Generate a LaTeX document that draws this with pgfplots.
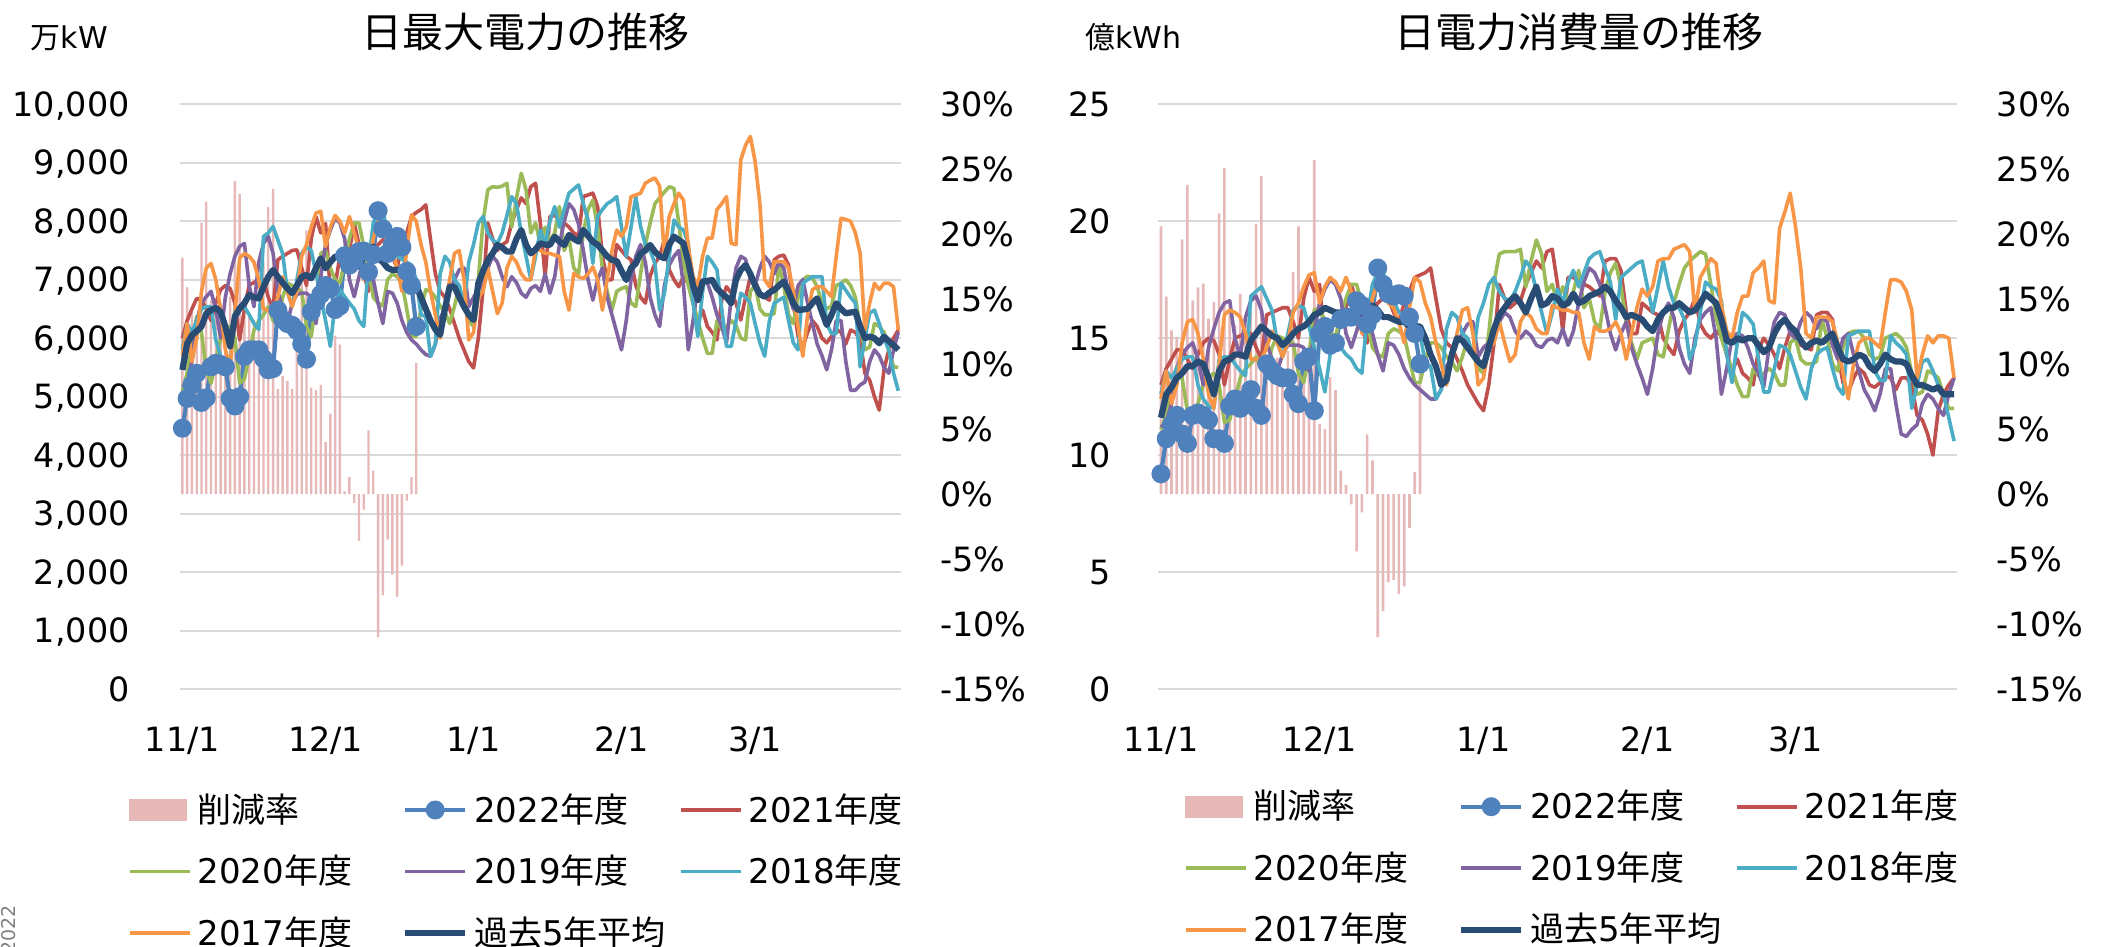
\documentclass[border=0pt]{standalone}
\usepackage{pgfplots}
\pgfplotsset{compat=1.18}
\usepackage{pgfplotstable}
\usepackage{fontspec}
\setmainfont{DejaVu Sans}
\newfontfamily\cjk{Noto Sans CJK JP}
\definecolor{c22}{HTML}{4F81BD}
\definecolor{c21}{HTML}{C0504D}
\definecolor{c20}{HTML}{9BBB59}
\definecolor{c19}{HTML}{8064A2}
\definecolor{c18}{HTML}{4BACC6}
\definecolor{c17}{HTML}{F79646}
\definecolor{cavg}{HTML}{294C74}
\definecolor{cbar}{HTML}{E6B9B8}
\definecolor{cgrid}{HTML}{D9D9D9}

\pgfplotstableread{
d a21 a20 a19 a18 a17 av
0 6000 5100 5170 5800 5700 5456
1 6300 5400 5230 6250 6250 5910
2 6500 5900 5600 6100 5600 6050
3 6680 6370 6300 6300 6000 6120
4 6650 6100 6600 6500 6800 6200
5 6500 5460 6710 6540 7200 6420
6 6300 5230 6800 6540 7280 6480
7 6600 5600 6500 5970 7000 6520
8 6830 6000 6000 5700 6500 6450
9 6900 6140 6700 5570 5800 6200
10 6850 6200 7100 5510 5520 5860
11 6600 6000 7400 6500 6400 6370
12 5970 5230 7570 6520 7370 6510
13 6500 5300 7620 6540 7450 6600
14 6910 5700 6900 6400 7400 6740
15 6950 6140 6540 6250 7300 6700
16 7000 6300 7300 6150 7000 6680
17 7000 6400 7620 7740 6500 6880
18 6700 6540 7740 7800 6480 7050
19 6500 6300 7450 7910 6480 7166
20 7340 6250 6800 7680 6700 7050
21 7400 6700 6500 7450 7050 6950
22 7450 6940 6250 6800 6800 6850
23 7500 6900 6600 6540 6540 6770
24 7510 6850 6750 7000 6800 6900
25 7200 6800 6770 7450 7400 7050
26 6900 6200 6770 7560 7600 7080
27 7700 6030 6700 7500 7900 7024
28 8080 6600 6250 7110 8140 7200
29 7800 7450 7050 6700 8170 7366
30 7960 7500 7600 6300 7570 7195
31 6800 7200 7850 5860 7900 7300
32 6900 7000 8050 6600 8100 7394
33 7400 6950 7970 6830 8000 7400
34 7400 7300 7700 6710 7800 7423
35 7500 7700 7000 6600 8080 7350
36 7970 7970 6710 6500 7800 7280
37 7600 7970 7050 6300 7500 7224
38 7100 7570 7400 6200 7000 7400
39 6800 7200 7550 7300 7220 7500
40 7450 6700 7000 7970 7700 7566
41 7600 6600 6600 8190 8000 7366
42 7680 6550 6250 8250 7900 7300
43 7680 7000 6800 7680 7600 7200
44 7400 7100 6770 7620 7500 7166
45 7200 7050 6600 7400 7200 7170
46 7600 6950 6300 7350 6800 7166
47 7800 6500 6100 7300 7500 7100
48 8080 6030 5970 7250 8110 6995
49 8150 6030 5900 7000 8000 6900
50 8200 6500 5800 6400 7600 6700
51 8280 6830 5720 6370 7300 6500
52 7680 6800 5690 5690 6800 6300
53 7100 6700 5900 5900 6400 6150
54 6800 6550 6340 7100 6000 6055
55 6700 6450 6500 7400 6500 6500
56 6500 6250 6800 7300 7000 6880
57 6250 6540 7000 7000 7450 6880
58 6000 6900 7170 6900 7500 6700
59 5800 6600 7200 6540 7000 6540
60 5600 6300 6540 7300 5970 6400
61 5490 6200 6700 7600 6100 6311
62 6000 7000 6830 7970 6700 6938
63 6830 8000 7000 8080 6800 7150
64 7970 8540 7200 7800 7200 7337
65 7700 8590 7400 7680 6800 7450
66 7500 8580 7300 7620 6420 7594
67 7600 8600 7050 7800 6600 7550
68 7650 8650 6880 8100 7200 7480
69 7970 7900 7050 8420 7400 7480
70 8200 8400 6950 8300 7300 7700
71 8400 8820 6770 7800 7100 7850
72 8300 8540 6700 7400 7000 7600
73 8590 7800 6850 7000 7000 7450
74 8650 7970 6900 7400 7540 7520
75 7970 7600 6800 7850 7500 7623
76 7050 7900 7100 7600 7450 7600
77 8080 7650 6770 8000 7450 7594
78 8100 7800 7050 8250 7420 7737
79 8020 8250 7600 7900 7400 7650
80 7970 7500 8000 8200 6800 7594
81 7900 7700 8300 8480 6480 7766
82 7800 7200 8200 8550 7110 7700
83 7750 7100 7950 8620 7050 7651
84 8420 7800 7500 8300 7020 7850
85 8450 8200 7000 8020 7100 7750
86 8480 8360 6650 7280 7220 7650
87 8250 7900 7000 8080 7000 7600
88 7400 7200 7200 8200 6480 7500
89 7000 6800 6700 8300 7000 7400
90 7000 6480 6400 8350 7500 7337
91 7600 6800 6100 8420 7850 7320
92 7500 6850 5800 7900 7740 7150
93 7400 6880 6300 7400 7900 6995
94 7340 6600 7000 7900 8420 7200
95 6900 6540 7400 8420 8450 7280
96 6700 7100 7600 7910 8480 7450
97 6600 7600 7300 7600 8650 7500
98 7060 7970 6700 7500 8700 7594
99 7280 8300 6400 7280 8740 7480
100 7400 8400 6200 6480 8600 7400
101 7680 8500 6900 6770 7400 7366
102 7170 8590 7250 7400 8080 7600
103 7000 8560 7400 8020 8300 7737
104 6880 7970 7500 7900 8480 7680
105 7050 7300 6900 7850 8360 7623
106 6940 6900 5800 7620 7560 7300
107 6600 6600 6300 6600 7050 6900
108 6270 6300 6900 6030 6900 6653
109 6480 6000 7000 6800 7400 6967
110 6200 5740 6950 7400 7710 6980
111 6100 5740 6700 7300 7710 6995
112 5970 6300 6400 7170 8200 6850
113 6650 6150 6200 6500 8300 6767
114 6880 6200 5920 5860 8420 6700
115 6770 6300 6700 5860 7620 6596
116 6600 6220 7200 6300 7600 7000
117 6310 6000 7400 6770 9050 7166
118 6700 5970 7350 6700 9300 7252
119 7050 6800 7000 6600 9450 7100
120 6990 6900 6900 6250 9020 6900
121 6770 6500 7200 5920 8300 6750
122 6700 6400 7400 5690 7000 6710
123 6650 6400 7300 6300 6880 6780
124 7340 6420 7100 6600 7310 6824
125 7400 7270 7300 6650 7310 6900
126 7420 6900 7200 6700 7310 6967
127 7250 6400 6750 6300 7200 6800
128 6600 6250 6500 5920 6820 6600
129 6030 6700 6900 5800 6200 6482
130 5850 7000 7000 6940 5690 6490
131 6100 7060 6600 7000 6400 6500
132 6300 7030 6250 7050 6830 6600
133 6200 6880 5900 7050 6880 6682
134 6000 6600 5700 7050 6880 6450
135 5920 6500 5460 6250 6800 6226
136 6030 6550 5800 6080 6710 6400
137 6150 6900 6300 6080 7400 6596
138 6100 6940 6300 6940 8050 6500
139 5900 7000 5600 6820 8030 6425
140 6140 6900 5110 6700 8000 6440
141 6100 6700 5110 6600 7800 6450
142 5970 6200 5200 5510 7450 6200
143 5400 5800 5250 6000 6140 6000
144 5280 5850 5600 6430 6600 6030
145 5000 6250 5800 6480 6940 6000
146 4770 6200 5700 6250 6830 5912
147 5460 6100 5500 6000 6940 6026
148 5800 5800 5400 5800 6940 5950
149 6000 5510 5800 5400 6880 5880
150 6140 5500 6100 5100 6140 5800
}\histL

\pgfplotstableread{
d b v
0 18.2 4460
1 15.9 4970
2 14.0 5200
3 11.8 5400
4 20.9 4900
5 22.5 4980
6 14.9 5510
7 14.6 5570
8 14.0 5550
9 11.1 5510
10 15.2 4970
11 24.1 4840
12 23.1 5000
13 13.8 5690
14 13.9 5800
15 13.4 5800
16 13.2 5800
17 17.9 5650
18 22.1 5460
19 23.5 5480
20 8.1 6480
21 9.1 6320
22 8.7 6250
23 8.1 6220
24 11.1 6130
25 16.3 5900
26 20.3 5640
27 8.2 6450
28 8.0 6620
29 8.4 6750
30 4.0 6900
31 6.2 6850
32 12.2 6490
33 11.5 6550
34 0.2 7410
35 1.3 7250
36 -0.7 7330
37 -3.6 7480
38 -1.2 7490
39 4.9 7130
40 1.8 7430
41 -11.0 8180
42 -7.8 7870
43 -3.5 7450
44 -6.2 7610
45 -7.9 7740
46 -5.5 7560
47 -0.5 7140
48 1.3 6900
49 10.1 6200
}\nowL

\pgfplotstableread{
d a21 a20 a19 a18 a17 av
0 13.0 11.1 11.2 12.6 12.4 11.6
1 13.7 11.7 11.4 13.6 13.6 12.6
2 14.1 12.8 12.2 13.3 12.2 12.9
3 14.5 13.8 13.7 13.7 13.0 13.3
4 14.5 13.3 14.3 14.1 14.8 13.5
5 14.1 11.9 14.6 14.2 15.7 13.8
6 13.7 11.4 14.8 14.2 15.8 13.8
7 14.3 12.2 14.1 13.0 15.2 14.0
8 14.8 13.0 13.0 12.4 14.1 13.9
9 15.0 13.3 14.6 12.1 12.6 13.3
10 14.9 13.5 15.4 12.0 12.0 12.6
11 14.3 13.0 16.1 14.1 13.9 13.6
12 13.0 11.4 16.5 14.2 16.0 14.0
13 14.1 11.5 16.6 14.2 16.2 14.1
14 15.0 12.4 15.0 13.9 16.1 14.3
15 15.1 13.3 14.2 13.6 15.9 14.3
16 15.2 13.7 15.9 13.4 15.2 14.2
17 15.2 13.9 16.6 16.8 14.1 14.9
18 14.6 14.2 16.8 17.0 14.1 15.2
19 14.1 13.7 16.2 17.2 14.1 15.5
20 16.0 13.6 14.8 16.7 14.6 15.3
21 16.1 14.6 14.1 16.2 15.3 15.1
22 16.2 15.1 13.6 14.8 14.8 15.0
23 16.3 15.0 14.3 14.2 14.2 14.7
24 16.3 14.9 14.7 15.2 14.8 14.9
25 15.7 14.8 14.7 16.2 16.1 15.2
26 15.0 13.5 14.7 16.4 16.5 15.4
27 16.7 13.1 14.6 16.3 17.2 15.5
28 17.6 14.3 13.6 15.5 17.7 15.7
29 17.0 16.2 15.3 14.6 17.8 16.0
30 17.3 16.3 16.5 13.7 16.5 16.1
31 14.8 15.7 17.1 12.7 17.2 16.3
32 15.0 15.2 17.5 14.3 17.6 16.2
33 16.1 15.1 17.3 14.8 17.4 16.1
34 16.1 15.9 16.7 14.6 17.0 16.1
35 16.3 16.7 15.2 14.3 17.6 16.0
36 17.3 17.3 14.6 14.1 17.0 15.8
37 16.5 17.3 15.3 13.7 16.3 15.9
38 15.4 16.5 16.1 13.5 15.2 16.2
39 14.8 15.7 16.4 15.9 15.7 16.3
40 16.2 14.6 15.2 17.3 16.7 16.4
41 16.5 14.3 14.3 17.8 17.4 16.2
42 16.7 14.2 13.6 17.9 17.2 15.9
43 16.7 15.2 14.8 16.7 16.5 15.9
44 16.1 15.4 14.7 16.6 16.3 15.8
45 15.7 15.3 14.3 16.1 15.7 15.7
46 16.5 15.1 13.7 16.0 14.8 15.7
47 17.0 14.1 13.3 15.9 16.3 15.5
48 17.6 13.1 13.0 15.8 17.6 15.5
49 17.7 13.1 12.8 15.2 17.4 15.5
50 17.8 14.1 12.6 13.9 16.5 15.0
51 18.0 14.8 12.4 13.8 15.9 14.3
52 16.7 14.8 12.4 12.4 14.8 13.8
53 15.4 14.6 12.8 12.8 13.9 13.0
54 14.8 14.2 13.8 15.4 13.0 13.2
55 14.6 14.0 14.1 16.1 14.1 14.3
56 14.1 13.6 14.8 15.9 15.2 15.0
57 13.6 14.2 15.2 15.2 16.2 14.9
58 13.0 15.0 15.6 15.0 16.3 14.6
59 12.6 14.3 15.7 14.2 15.2 14.3
60 12.2 13.7 14.2 15.9 13.0 14.0
61 11.9 13.5 14.6 16.5 13.3 13.8
62 13.0 15.2 14.8 17.3 14.6 14.6
63 14.8 17.4 15.2 17.6 14.8 15.4
64 17.3 18.6 15.7 17.0 15.7 16.0
65 16.7 18.7 16.1 16.7 14.8 16.3
66 16.3 18.7 15.9 16.6 14.0 16.6
67 16.5 18.7 15.3 17.0 14.3 16.8
68 16.6 18.8 15.0 17.6 15.7 16.5
69 17.3 17.2 15.3 18.3 16.1 16.1
70 17.8 18.3 15.1 18.0 15.9 16.7
71 18.3 19.2 14.7 17.0 15.4 17.2
72 18.0 18.6 14.6 16.1 15.2 16.4
73 18.7 17.0 14.9 15.2 15.2 16.5
74 18.8 17.3 15.0 16.1 16.4 16.8
75 17.3 16.5 14.8 17.1 16.3 16.7
76 15.3 17.2 15.4 16.5 16.2 16.4
77 17.6 16.6 14.7 17.4 16.2 16.5
78 17.6 17.0 15.3 17.9 16.1 16.9
79 17.4 17.9 16.5 17.2 16.1 16.5
80 17.3 16.3 17.4 17.8 14.8 16.6
81 17.2 16.7 18.0 18.4 14.1 16.8
82 17.0 15.7 17.8 18.6 15.5 16.9
83 16.8 15.4 17.3 18.7 15.3 17.0
84 18.3 17.0 16.3 18.0 15.3 17.2
85 18.4 17.8 15.2 17.4 15.4 17.0
86 18.4 18.2 14.5 15.8 15.7 16.6
87 17.9 17.2 15.2 17.6 15.2 16.3
88 16.1 15.7 15.7 17.8 14.1 15.9
89 15.2 14.8 14.6 18.0 15.2 16.0
90 15.2 14.1 13.9 18.2 16.3 15.9
91 16.5 14.8 13.3 18.3 17.1 15.8
92 16.3 14.9 12.6 17.2 16.8 15.5
93 16.1 15.0 13.7 16.1 17.2 15.3
94 16.0 14.3 15.2 17.2 18.3 15.8
95 15.0 14.2 16.1 18.3 18.4 16.1
96 14.6 15.4 16.5 17.2 18.4 16.3
97 14.3 16.5 15.9 16.5 18.8 16.3
98 15.3 17.3 14.6 16.3 18.9 16.5
99 15.8 18.0 13.9 15.8 19.0 16.3
100 16.1 18.3 13.5 14.1 18.7 16.1
101 16.7 18.5 15.0 14.7 16.1 16.2
102 15.6 18.7 15.8 16.1 17.6 16.5
103 15.2 18.6 16.1 17.4 18.0 16.9
104 15.0 17.3 16.3 17.2 18.4 16.7
105 15.3 15.9 15.0 17.1 18.2 16.5
106 15.1 15.0 12.6 16.6 16.4 15.8
107 14.3 14.3 13.7 14.3 15.3 14.9
108 13.6 13.7 15.0 13.1 15.0 14.8
109 14.1 13.0 15.2 14.8 16.1 15.0
110 13.5 12.5 15.1 16.1 16.8 14.9
111 13.3 12.5 14.6 15.9 16.8 15.0
112 13.0 13.7 13.9 15.6 17.8 15.0
113 14.5 13.4 13.5 14.1 18.0 14.7
114 15.0 13.5 12.9 12.7 18.3 14.4
115 14.7 13.7 14.6 12.7 16.6 14.6
116 14.3 13.5 15.7 13.7 16.5 15.2
117 13.7 13.0 16.1 14.7 19.7 15.6
118 14.6 13.0 16.0 14.6 20.4 15.8
119 15.3 14.8 15.2 14.3 21.2 15.5
120 15.2 15.0 15.0 13.6 19.8 15.3
121 14.7 14.1 15.7 12.9 18.0 14.9
122 14.6 13.9 16.1 12.4 15.2 14.6
123 14.5 13.9 15.9 13.7 15.0 14.8
124 16.0 14.0 15.4 14.3 15.9 14.9
125 16.1 15.8 15.9 14.5 15.9 14.8
126 16.1 15.0 15.7 14.6 15.9 15.0
127 15.8 13.9 14.7 13.7 15.7 15.2
128 14.3 13.6 14.1 12.9 14.8 14.6
129 13.1 14.6 15.0 12.6 13.5 14.1
130 12.7 15.2 15.2 15.1 12.4 14.0
131 13.3 15.3 14.3 15.2 13.9 14.1
132 13.7 15.3 13.6 15.3 14.8 14.3
133 13.5 15.0 12.8 15.3 15.0 14.2
134 13.0 14.3 12.4 15.3 15.0 13.8
135 12.9 14.1 11.9 13.6 14.8 13.6
136 13.1 14.2 12.6 13.2 14.6 13.9
137 13.4 15.0 13.7 13.2 16.1 14.3
138 13.3 15.1 13.7 15.1 17.5 14.1
139 12.8 15.2 12.2 14.8 17.5 14.0
140 13.3 15.0 10.9 14.6 17.4 14.0
141 13.3 14.6 10.8 14.3 17.0 13.9
142 13.0 13.5 11.1 12.0 16.2 13.4
143 11.7 12.6 11.3 13.0 13.3 13.0
144 11.5 12.7 12.2 14.0 14.3 13.0
145 10.9 13.6 12.6 14.1 15.1 12.9
146 10.0 13.5 12.4 13.6 14.8 12.8
147 11.9 13.3 12.0 13.0 15.1 12.9
148 12.6 12.6 11.7 12.6 15.1 12.6
149 13.0 12.0 12.6 11.6 15.0 12.6
150 13.3 12.0 13.3 10.6 13.3 12.6
}\histR

\pgfplotstableread{
d b v
0 20.6 9.2
1 15.2 10.7
2 12.6 11.3
3 12.1 11.7
4 19.6 10.9
5 23.8 10.5
6 14.9 11.7
7 15.9 11.8
8 16.2 11.7
9 13.5 11.5
10 14.8 10.7
11 21.6 10.7
12 25.1 10.5
13 14.0 12.1
14 13.0 12.4
15 15.4 12.0
16 13.0 12.4
17 14.0 12.8
18 20.8 12.0
19 24.5 11.7
20 9.5 13.9
21 10.0 13.6
22 10.5 13.4
23 9.5 13.3
24 11.0 13.3
25 17.1 12.6
26 20.6 12.2
27 10.0 14.0
28 9.5 14.2
29 25.7 11.9
30 5.4 15.2
31 5.0 15.5
32 9.0 14.7
33 8.0 14.8
34 1.8 15.8
35 0.7 15.9
36 -0.8 15.9
37 -4.4 16.6
38 -1.4 16.4
39 4.6 15.6
40 2.6 16.0
41 -11.0 18.0
42 -9.0 17.3
43 -6.8 16.9
44 -6.6 16.8
45 -7.7 16.9
46 -7.1 16.8
47 -2.6 15.9
48 1.7 15.2
49 10.0 13.9
}\nowR

\pgfplotsset{
  panel/.style={scale only axis, height=292.35pt, xmin=-0.5, xmax=150.5,
    scaled y ticks=false, scaled x ticks=false,
    axis line style={draw=none}, major tick length=0pt,
    tick label style={font=\fontsize{16.7}{20}\selectfont}},
  gridax/.style={panel, ymajorgrids, major grid style={draw=cgrid, line width=1pt},
    xtick=\empty, yticklabels={}, axis y line*=left, axis x line*=bottom},
  barax/.style={panel, ymin=-15, ymax=30, ytick={-15,-10,...,30},
    yticklabels={-15\%,-10\%,-5\%,0\%,5\%,10\%,15\%,20\%,25\%,30\%},
    axis y line*=right, axis x line=none, xtick=\empty},
  lineax/.style={panel, axis y line*=left, axis x line*=bottom, clip=false,
    xtick={0,30,61,92,120}, xticklabels={11/1,12/1,1/1,2/1,3/1},
    xticklabel style={anchor=base, inner sep=0pt, yshift=-31.5pt},
    legend columns=3,
    legend image code/.code={\draw[mark repeat=2,mark phase=2,##1] plot coordinates {(0pt,0pt) (15pt,0pt) (30pt,0pt)};},
    legend style={anchor=north west, draw=none, fill=none, inner sep=0pt, outer sep=0pt,
      font=\fontsize{17}{20}\selectfont,
      nodes={inner sep=0pt, text height=16pt, text depth=4pt},
      cells={anchor=west}, column sep=0pt, row sep=10.75pt,
      /tikz/every odd column/.append style={column sep=3pt}}},
  s21/.style={c21, line width=1.8pt, line join=round},
  s20/.style={c20, line width=1.8pt, line join=round},
  s19/.style={c19, line width=1.8pt, line join=round},
  s18/.style={c18, line width=1.8pt, line join=round},
  s17/.style={c17, line width=1.8pt, line join=round},
  savg/.style={cavg, line width=3.1pt, line join=round},
  s22/.style={c22, line width=2.1pt, line join=round, mark=*, mark size=3.7pt, mark options={fill=c22, draw=none}},
}
\newcommand{\lgd}[1]{\makebox[102.25pt][l]{#1}}

\begin{document}
\begin{tikzpicture}
\useasboundingbox (0,0) rectangle (1052.5pt,473.5pt);

% ---------- left panel ----------
\begin{axis}[gridax, at={(90pt,129pt)}, anchor=south west, width=360.35pt,
  ymin=0, ymax=10000, ytick={0,1000,...,10000}]
\end{axis}
\begin{axis}[barax, at={(90pt,129pt)}, anchor=south west, width=360.35pt,
  yticklabel style={anchor=base west, inner sep=0pt, xshift=19.65pt, yshift=-6.1pt}]
\addplot[ybar, bar width=0.5, fill=cbar, draw=none] table[x=d, y=b] {\nowL};
\end{axis}
\begin{axis}[lineax, at={(90pt,129pt)}, anchor=south west, width=360.35pt,
  ymin=0, ymax=10000, ytick={0,1000,...,10000},
  yticklabels={0,{1,000},{2,000},{3,000},{4,000},{5,000},{6,000},{7,000},{8,000},{9,000},{10,000}},
  yticklabel style={anchor=base east, inner sep=0pt, xshift=-25pt, yshift=-6.1pt},
  legend style={at={(-0.07215,-0.17274)}}]
\addlegendimage{legend image code/.code={\fill[cbar] (0pt,-5.2pt) rectangle (28.5pt,5.2pt);}}
\addlegendentry{\lgd{\cjk 削減率}}
\addplot[s22] table[x=d, y=v] {\nowL};
\addlegendentry{\lgd{2022{\cjk 年度}}}
\addplot[s21] table[x=d, y=a21] {\histL};
\addlegendentry{\lgd{2021{\cjk 年度}}}
\addplot[s20] table[x=d, y=a20] {\histL};
\addlegendentry{\lgd{2020{\cjk 年度}}}
\addplot[s19] table[x=d, y=a19] {\histL};
\addlegendentry{\lgd{2019{\cjk 年度}}}
\addplot[s18] table[x=d, y=a18] {\histL};
\addlegendentry{\lgd{2018{\cjk 年度}}}
\addplot[s17] table[x=d, y=a17] {\histL};
\addlegendentry{\lgd{2017{\cjk 年度}}}
\addplot[savg] table[x=d, y=av] {\histL};
\addlegendentry{\lgd{{\cjk 過去}5{\cjk 年平均}}}
\end{axis}

% ---------- right panel ----------
\begin{axis}[gridax, at={(579.15pt,129pt)}, anchor=south west, width=399.2pt,
  ymin=0, ymax=25, ytick={0,5,...,25}]
\end{axis}
\begin{axis}[barax, at={(579.15pt,129pt)}, anchor=south west, width=399.2pt,
  yticklabel style={anchor=base west, inner sep=0pt, xshift=19.9pt, yshift=-6.1pt}]
\addplot[ybar, bar width=0.5, fill=cbar, draw=none] table[x=d, y=b] {\nowR};
\end{axis}
\begin{axis}[lineax, at={(579.15pt,129pt)}, anchor=south west, width=399.2pt,
  ymin=0, ymax=25, ytick={0,5,...,25},
  yticklabels={0,5,10,15,20,25},
  yticklabel style={anchor=base east, inner sep=0pt, xshift=-23.65pt, yshift=-6.1pt},
  legend style={at={(0.0322,-0.1671)}}]
\addlegendimage{legend image code/.code={\fill[cbar] (0pt,-5.2pt) rectangle (28.5pt,5.2pt);}}
\addlegendentry{\lgd{\cjk 削減率}}
\addplot[s22] table[x=d, y=v] {\nowR};
\addlegendentry{\lgd{2022{\cjk 年度}}}
\addplot[s21] table[x=d, y=a21] {\histR};
\addlegendentry{\lgd{2021{\cjk 年度}}}
\addplot[s20] table[x=d, y=a20] {\histR};
\addlegendentry{\lgd{2020{\cjk 年度}}}
\addplot[s19] table[x=d, y=a19] {\histR};
\addlegendentry{\lgd{2019{\cjk 年度}}}
\addplot[s18] table[x=d, y=a18] {\histR};
\addlegendentry{\lgd{2018{\cjk 年度}}}
\addplot[s17] table[x=d, y=a17] {\histR};
\addlegendentry{\lgd{2017{\cjk 年度}}}
\addplot[savg] table[x=d, y=av] {\histR};
\addlegendentry{\lgd{{\cjk 過去}5{\cjk 年平均}}}
\end{axis}

% ---------- titles and units ----------
\node[font=\fontsize{20.5}{24}\selectfont\cjk, inner sep=0pt] at (262.5pt,457.5pt) {日最大電力の推移};
\node[font=\fontsize{20.5}{24}\selectfont\cjk, inner sep=0pt] at (789.5pt,457.5pt) {日電力消費量の推移};
\node[font=\fontsize{15}{18}\selectfont, inner sep=0pt, anchor=west] at (15.3pt,454.5pt) {{\cjk 万}kW};
\node[font=\fontsize{15}{18}\selectfont, inner sep=0pt, anchor=west] at (542.5pt,454.7pt) {{\cjk 億}kWh};
\begin{scope}
\clip (0,0) rectangle (20pt,30pt);
\node[rotate=90, anchor=east, inner sep=0pt, text=gray, font=\fontsize{9.5}{11}\selectfont] at (4.3pt,21pt) {2022};
\end{scope}
\end{tikzpicture}
\end{document}
